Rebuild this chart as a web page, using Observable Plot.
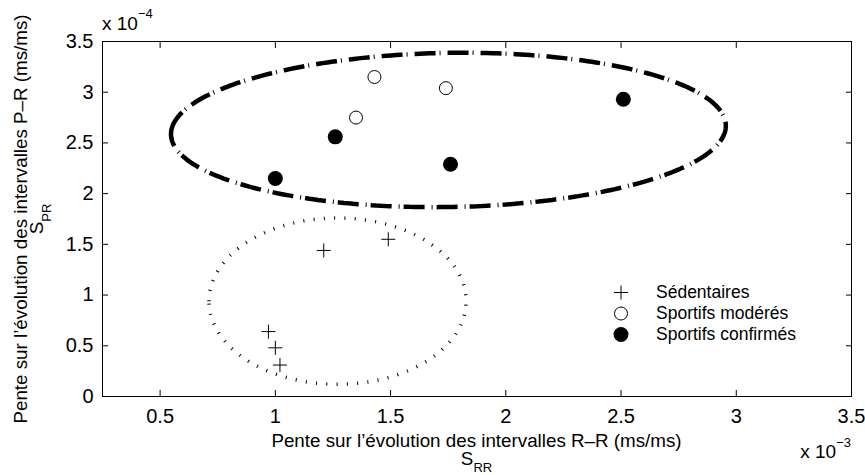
<!DOCTYPE html>
<html><head><meta charset="utf-8">
<script src="https://cdn.jsdelivr.net/npm/d3@7"></script>
<script src="https://cdn.jsdelivr.net/npm/@observablehq/plot@0.6"></script>
<style>html,body{margin:0;padding:0;background:#fff}#chart svg{display:block}</style>
</head><body><div id="chart"></div>
<script>
const FONT = "'Liberation Sans', Arial, Helvetica, sans-serif";

// tick values (x in units of 1e-3, y in units of 1e-4)
const xTicks = [0.5, 1, 1.5, 2, 2.5, 3, 3.5];
const yTicks = [0, 0.5, 1, 1.5, 2, 2.5, 3, 3.5];

// series
const legendLabels = ["Sédentaires", "Sportifs modérés", "Sportifs confirmés"];
const sedX = [0.97, 1.00, 1.02, 1.21, 1.49];
const sedY = [0.64, 0.48, 0.31, 1.44, 1.55];
const modX = [1.35, 1.43, 1.74];
const modY = [2.75, 3.15, 3.04];
const confX = [1.00, 1.26, 1.76, 2.51];
const confY = [2.15, 2.56, 2.29, 2.93];

// group ellipses: [dash-dot (sportifs), dotted (sédentaires)]
const ellCx = [1.751, 1.27];
const ellCy = [2.628, 0.94];
const ellRx = [1.202, 0.558];
const ellRy = [0.761, 0.82];
const ellShear = [0.065, 0];

// build tables
const toRows = (xs, ys) => xs.map((x, i) => ({x, y: ys[i]}));
const sed = toRows(sedX, sedY), mod = toRows(modX, modY), conf = toRows(confX, confY);
function ellipse(k) {
  const n = 360, pts = [];
  for (let i = 0; i <= n; i++) {
    const t = Math.PI - 2 * Math.PI * i / n;
    pts.push({x: ellCx[k] + ellRx[k] * Math.cos(t) + ellShear[k] * Math.sin(t), y: ellCy[k] + ellRy[k] * Math.sin(t)});
  }
  return pts;
}
const plusSym = {draw(ctx, size) { const r = Math.sqrt(size / Math.PI); ctx.moveTo(-r, 0); ctx.lineTo(r, 0); ctx.moveTo(0, -r); ctx.lineTo(0, r); }};

const W = 865, H = 475, ML = 102, MR = 14, MT = 41, MB = 79;
const plot = Plot.plot({
  width: W, height: H,
  marginLeft: ML, marginRight: MR, marginTop: MT, marginBottom: MB,
  x: {domain: [0.25, 3.5]},
  y: {domain: [0, 3.5]},
  style: {fontFamily: FONT, background: "white", color: "black", overflow: "visible"},
  marks: [
    Plot.line(ellipse(0), {x: "x", y: "y", stroke: "black", strokeWidth: 4.5, strokeLinecap: "butt", strokeLinejoin: "miter", strokeDasharray: "21,4,1,7"}),
    Plot.line(ellipse(1), {x: "x", y: "y", stroke: "black", strokeWidth: 3.5, strokeLinecap: "butt", strokeLinejoin: "miter", strokeDasharray: "1,9.3"}),
    Plot.dot(sed, {x: "x", y: "y", symbol: plusSym, r: 7, stroke: "black", strokeWidth: 1}),
    Plot.dot(mod, {x: "x", y: "y", r: 6.5, stroke: "black", fill: "white", strokeWidth: 1}),
    Plot.dot(conf, {x: "x", y: "y", r: 7.5, fill: "black", stroke: "none"}),
    Plot.frame({stroke: "black", strokeWidth: 1}),
    Plot.axisX(xTicks, {anchor: "bottom", tickSize: -6, fill: "none", label: null}),
    Plot.axisX(xTicks, {anchor: "top", tickSize: -6, fill: "none", label: null}),
    Plot.axisY(yTicks, {anchor: "left", tickSize: -6, fill: "none", label: null}),
    Plot.axisY(yTicks, {anchor: "right", tickSize: -6, fill: "none", label: null}),
    Plot.axisX(xTicks, {anchor: "bottom", tickSize: 0, tickPadding: 12, fontSize: 20, label: null, tickFormat: d => String(d)}),
    Plot.axisY(yTicks, {anchor: "left", tickSize: 0, tickPadding: 9, fontSize: 20, label: null, tickFormat: d => String(d)})
  ]
});
document.getElementById("chart").appendChild(plot);

const svg = d3.select(plot);
const g = svg.append("g").attr("font-family", FONT).attr("fill", "black").attr("text-anchor", "start");

// x label
g.append("text").attr("x", 476.5).attr("y", 447).attr("text-anchor", "middle").attr("font-size", 18.8)
  .text("Pente sur l’évolution des intervalles R–R (ms/ms)");
const sx = g.append("text").attr("x", 476.5).attr("y", 464.5).attr("text-anchor", "middle").attr("font-size", 18.8);
sx.append("tspan").text("S");
sx.append("tspan").attr("font-size", 13).attr("dy", 7).text("RR");

// y label
g.append("text").attr("transform", "translate(26.5,219) rotate(-90)").attr("text-anchor", "middle").attr("font-size", 18.8)
  .text("Pente sur l’évolution des intervalles P–R (ms/ms)");
const sy = g.append("text").attr("transform", "translate(43.3,219) rotate(-90)").attr("text-anchor", "middle").attr("font-size", 18.8);
sy.append("tspan").text("S");
sy.append("tspan").attr("font-size", 13).attr("dy", 8).text("PR");

// exponent multipliers
const ty = g.append("text").attr("x", ML).attr("y", 30).attr("text-anchor", "start").attr("font-size", 19);
ty.append("tspan").text("x 10");
ty.append("tspan").attr("font-size", 13).attr("dy", -12).text("−4");
const tx = g.append("text").attr("x", W - MR).attr("y", 458).attr("text-anchor", "end").attr("font-size", 19);
tx.append("tspan").text("x 10");
tx.append("tspan").attr("font-size", 13).attr("dy", -11).text("−3");

// legend
const lgX = 621, lgTx = 656, lgBase = [298, 319, 340];
const lg = g.append("g");
lg.append("path").attr("d", `M${lgX-7},${lgBase[0]-5.5}h14M${lgX},${lgBase[0]-12.5}v14`).attr("stroke", "black").attr("fill", "none");
lg.append("circle").attr("cx", lgX).attr("cy", lgBase[1]-5.5).attr("r", 6.5).attr("fill", "white").attr("stroke", "black");
lg.append("circle").attr("cx", lgX).attr("cy", lgBase[2]-5.5).attr("r", 7.5).attr("fill", "black");
legendLabels.forEach((s, i) => lg.append("text").attr("x", lgTx).attr("y", lgBase[i]).attr("text-anchor", "start").attr("font-size", 17.5).text(s));
</script></body></html>
